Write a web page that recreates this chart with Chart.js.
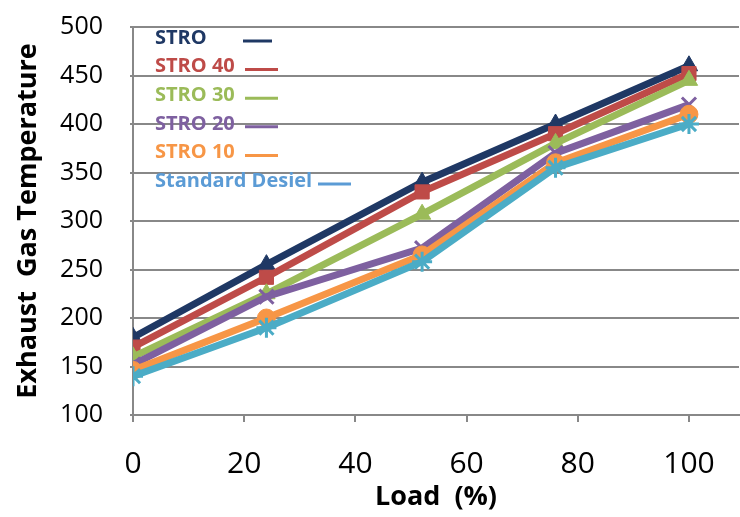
<!DOCTYPE html>
<html>
<head>
<meta charset="utf-8">
<script src="https://cdn.jsdelivr.net/npm/chart.js@4/dist/chart.umd.min.js"></script>
<style>
html,body{margin:0;padding:0;background:#fff;}
#box{width:740px;height:517px;position:relative;overflow:hidden;}
#wrap{width:752px;height:532px;position:absolute;left:0;top:-15px;}
</style>
</head>
<body>
<div id="box"><div id="wrap"><canvas id="c"></canvas></div></div>
<script>
// data
const loads = [0, 24, 52, 76, 100];
const names = ['STRO', 'STRO 40', 'STRO 30', 'STRO 20', 'STRO 10', 'Standard Desiel'];
const stro   = [180, 255, 340, 400, 460];
const stro40 = [170, 242, 330, 390, 452];
const stro30 = [160, 225, 307, 380, 445];
const stro20 = [152, 222, 272, 370, 420];
const stro10 = [146, 200, 265, 360, 410];
const diesel = [140, 190, 258, 355, 400];
const yTicks = [100, 150, 200, 250, 300, 350, 400, 450, 500];
const xTicks = [0, 20, 40, 60, 80, 100];

const cols   = ['#1f3864', '#be4b48', '#9bbb59', '#7e60a0', '#f79646', '#4bacc6'];
const txtCol = ['#1f3864', '#be4b48', '#9bbb59', '#7e60a0', '#f79646', '#5b9bd5'];
const shapes = ['triangle', 'rect', 'triangle', 'crossRot', 'circle', 'star'];
const series = [stro, stro40, stro30, stro20, stro10, diesel];

const ds = series.map((s, i) => ({
    label: names[i],
    data: s.map((v, j) => ({x: loads[j], y: v})),
    borderColor: cols[i], backgroundColor: cols[i],
    borderWidth: 7, pointStyle: shapes[i],
    pointRadius: shapes[i]==='circle' ? 9 : 10,
    pointBorderWidth: (shapes[i]==='crossRot'||shapes[i]==='star') ? 3 : 1,
    order: series.length - i, tension: 0, fill: false
}));

// legend drawn inside plot, coloured text + short line (canvas is shifted up 15px)
const legendPlug = {
    id: 'leg',
    afterDraw(ch) {
        let c = ch.ctx; c.save();
        c.textBaseline = 'middle';
        let lineX = [[243,272],[245,278],[245,278],[245,278],[245,278],[318,351]];
        names.forEach((n, i) => {
            let y = 15 + 38 + i*28.6;
            c.font = 'bold 20px "Open Sans", sans-serif';
            c.fillStyle = txtCol[i];
            c.fillText(n, 155, y);
            c.strokeStyle = txtCol[i]; c.lineWidth = 3;
            c.beginPath(); c.moveTo(lineX[i][0], y+3); c.lineTo(lineX[i][1], y+3); c.stroke();
        });
        c.restore();
    }
};

new Chart(document.getElementById('c'), {
    type: 'line',
    data: {datasets: ds},
    plugins: [legendPlug],
    options: {
        responsive: true, maintainAspectRatio: false, animation: false,
        layout: {padding: {top: 10, right: 0, left: 0, bottom: 0}},
        plugins: {legend: {display: false}, tooltip: {enabled: false}},
        scales: {
            x: {
                type: 'linear', min: 0, max: 109,
                afterBuildTicks: s => { s.ticks = xTicks.map(v => ({value: v})); },
                afterFit: s => { s.height = 102; },
                grid: {display: true, drawOnChartArea: false, drawTicks: true, tickLength: 7, color: '#888', lineWidth: 2},
                border: {color: '#888', width: 2},
                ticks: {color: '#000', font: {family: '"Open Sans", sans-serif', size: 30}, padding: 24, maxRotation: 0},
                title: {display: true, text: 'Load  (%)', color: '#000', font: {family: '"Open Sans", sans-serif', size: 27, weight: 'bold'}, padding: {top: 0, bottom: 3}}
            },
            y: {
                min: 100, max: 500,
                afterBuildTicks: s => { s.ticks = yTicks.map(v => ({value: v})); },
                afterFit: s => { s.width = 133; },
                grid: {color: '#888', lineWidth: 2, tickLength: 3},
                border: {color: '#888', width: 2},
                ticks: {color: '#000', font: {family: '"Open Sans", sans-serif', size: 25}, padding: 27},
                title: {display: true, text: 'Exhaust  Gas Temperature', color: '#000', font: {family: '"Open Sans", sans-serif', size: 27, weight: 'bold'}, padding: {top: 12, bottom: 0}}
            }
        }
    }
});
</script>
</body>
</html>
